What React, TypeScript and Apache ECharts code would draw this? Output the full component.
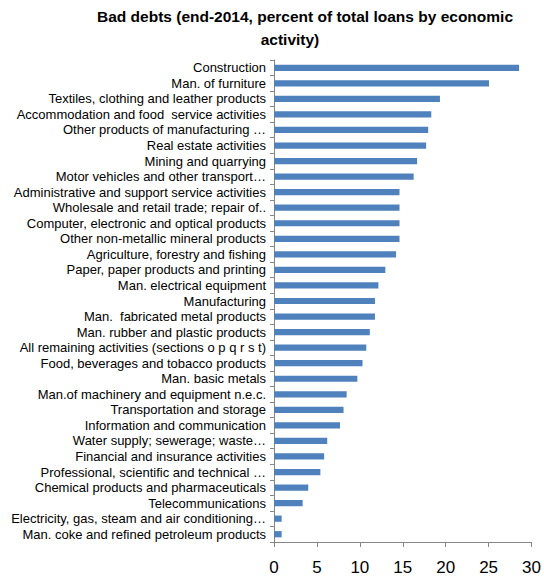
import React, { useEffect, useRef } from "react";
import * as echarts from "echarts";

const categories = [
  "Construction",
  "Man. of furniture",
  "Textiles, clothing and leather products",
  "Accommodation and food  service activities",
  "Other products of manufacturing …",
  "Real estate activities",
  "Mining and quarrying",
  "Motor vehicles and other transport…",
  "Administrative and support service activities",
  "Wholesale and retail trade; repair of..",
  "Computer, electronic and optical products",
  "Other non-metallic mineral products",
  "Agriculture, forestry and fishing",
  "Paper, paper products and printing",
  "Man. electrical equipment",
  "Manufacturing",
  "Man.  fabricated metal products",
  "Man. rubber and plastic products",
  "All remaining activities (sections o p q r s t)",
  "Food, beverages and tobacco products",
  "Man. basic metals",
  "Man.of machinery and equipment n.e.c.",
  "Transportation and storage",
  "Information and communication",
  "Water supply; sewerage; waste…",
  "Financial and insurance activities",
  "Professional, scientific and technical …",
  "Chemical products and pharmaceuticals",
  "Telecommunications",
  "Electricity, gas, steam and air conditioning…",
  "Man. coke and refined petroleum products",
];

const values = [
  28.55, 25.05, 19.33, 18.32, 17.96, 17.72, 16.67, 16.27, 14.62, 14.62, 14.62,
  14.62, 14.22, 12.97, 12.16, 11.76, 11.76, 11.16, 10.75, 10.31, 9.71, 8.46,
  8.1, 7.69, 6.2, 5.84, 5.4, 3.99, 3.34, 0.89, 0.89,
];

const titleLine1 = "Bad debts (end-2014, percent of total loans by economic";
const titleLine2 = "activity)";

export default function App() {
  const ref = useRef<HTMLDivElement>(null);
  useEffect(() => {
    document.body.style.margin = "0";
    const chart = echarts.init(ref.current!, undefined, { renderer: "svg" });
    const titleStyle = {
      fontFamily: "Liberation Sans",
      fontWeight: "bold",
      fontSize: 15.5,
      color: "#000000",
    };
    chart.setOption({
      animation: false,
      backgroundColor: "#ffffff",
      title: [
        { text: titleLine1, left: 305, top: 8, textAlign: "center", padding: 0, textStyle: titleStyle },
        { text: titleLine2, left: 290, top: 31, textAlign: "center", padding: 0, textStyle: titleStyle },
      ],
      grid: { left: 274, right: 11, top: 60, bottom: 35, containLabel: false },
      xAxis: {
        type: "value",
        min: 0,
        max: 30,
        interval: 5,
        axisLine: { show: true, lineStyle: { color: "#868686", width: 1 } },
        axisTick: { show: true, length: 5, lineStyle: { color: "#868686" } },
        splitLine: { show: false },
        axisLabel: {
          margin: 17,
          fontSize: 17,
          fontFamily: "Liberation Sans",
          color: "#000000",
        },
      },
      yAxis: {
        type: "category",
        data: categories,
        inverse: true,
        axisLine: { show: true, lineStyle: { color: "#868686", width: 1 } },
        axisTick: { show: true, length: 4, lineStyle: { color: "#868686" } },
        axisLabel: {
          margin: 8,
          fontSize: 13,
          fontFamily: "Liberation Sans",
          color: "#000000",
          interval: 0,
        },
      },
      series: [
        {
          type: "bar",
          data: values,
          barCategoryGap: "60%",
          itemStyle: { color: "#4F81BD" },
        },
      ],
    });
    return () => chart.dispose();
  }, []);
  return <div ref={ref} style={{ width: 544, height: 577 }} />;
}
